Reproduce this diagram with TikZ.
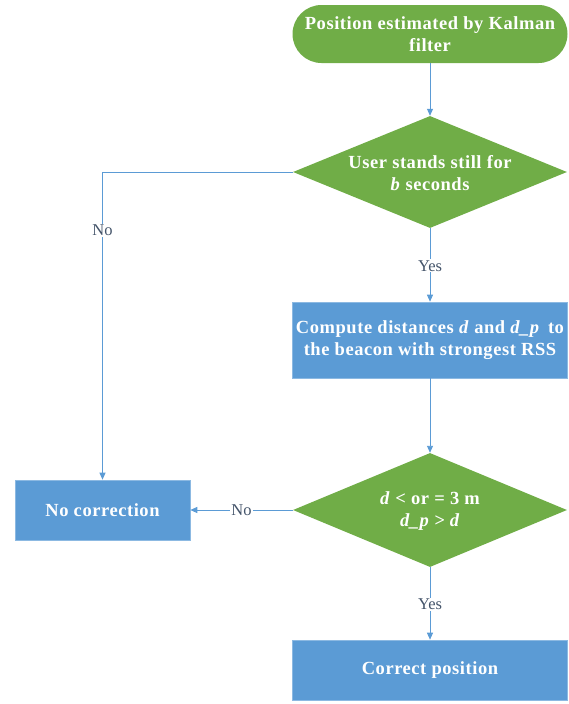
\documentclass[tikz,border=0pt]{standalone}
\usepackage{fontspec}
\setmainfont{Liberation Serif}
\newfontfamily\boxfont[LetterSpace=3]{Liberation Serif}
\usetikzlibrary{shapes.geometric,arrows.meta}
\definecolor{fgreen}{HTML}{70AD47}
\definecolor{fblue}{HTML}{5B9BD5}
\definecolor{flabel}{HTML}{44546A}
\tikzset{
  boxtxt/.style={text=white,font=\boxfont\fontsize{18.5}{22.5}\selectfont\bfseries,align=center},
  procbox/.style={rectangle,fill=fblue,draw=fblue!70!white,line width=0.6pt,inner sep=0pt,boxtxt},
  termbox/.style={rectangle,rounded corners=29pt,fill=fgreen,inner sep=0pt,boxtxt},
  decbox/.style={diamond,fill=fgreen,inner sep=0pt},
  conn/.style={draw=fblue,line width=0.9pt,-{Triangle[length=7pt,width=6pt]}},
  lbl/.style={fill=white,text=flabel,font=\fontsize{16.5}{18}\selectfont,inner sep=1pt}
}
\begin{document}
\begin{tikzpicture}[x=1pt,y=-1pt]
\useasboundingbox (0,0) rectangle (568,704);
\node[termbox,minimum width=275pt,minimum height=58pt] (start) at (430,34) {Position estimated by Kalman\\filter};
\node[decbox,minimum width=274pt,minimum height=112pt] (d1) at (430,172) {};
\node[boxtxt] (d1t) at (430,173) {User stands still for\\\textit{b} seconds};
\node[procbox,minimum width=275pt,minimum height=76pt] (b1) at (430,340) {Compute distances \textit{d} and \textit{d\_p}\, to\\the beacon with strongest RSS};
\node[decbox,minimum width=274pt,minimum height=114pt] (d2) at (430,510) {};
\node[boxtxt] (d2t) at (430,511) {\textit{d} < or = 3 m\\\textit{d\_p > d}};
\node[procbox,minimum width=175pt,minimum height=60pt] (nc) at (102.5,510) {No correction};
\node[procbox,minimum width=275pt,minimum height=60pt] (b2) at (430,670) {Correct position};
\coordinate (corner) at (102.5,172);
\draw[conn] (start) -- (d1);
\draw[conn] (d1.south) -- node[lbl,pos=0.51] {Yes} (b1.north);
\draw[conn] (d1.west) -- (corner) -- node[lbl,pos=0.19] {No} (nc.north);
\draw[conn] (b1.south) -- (d2.north);
\draw[conn] (d2.west) -- node[lbl,pos=0.5] {No} (nc.east);
\draw[conn] (d2.south) -- node[lbl,pos=0.51] {Yes} (b2.north);
\end{tikzpicture}
\end{document}
